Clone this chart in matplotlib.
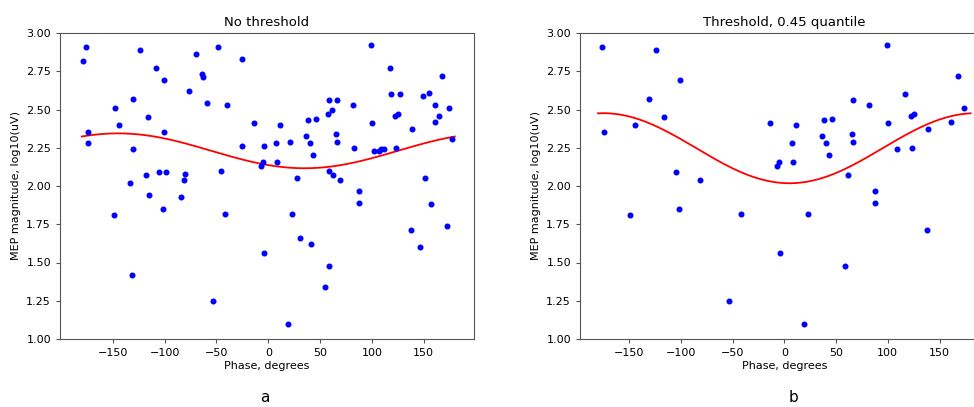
import numpy as np
import matplotlib
matplotlib.use("Agg")
import matplotlib.pyplot as plt

# panel a: all trials (phase in degrees, MEP log10 uV)
phase_all = [-179, -176, -174, -174, -148, -144, -131, -131, -124, -116, -118, -108,
             -105, -99, -101, -101, -133, -81, -80, -77, -70, -64, -63, -59, -49, -46,
             -40, -25, -25, -14, -4, -5, -7,
             -115, -84, -102, -149, -42, -4, -132, -53,
             7, 8, 11, 21, 28, 36, 38, 40, 43, 46, 58, 59, 61, 66, 65, 66, 59, 62, 69,
             82, 83, 99, 100, 102, 107, 109, 112, 117, 118, 123, 122, 125, 127, 139,
             149, 155, 151, 161, 161, 165, 168, 174, 177,
             23, 31, 41, 59, 55, 19, 88, 88, 157, 172, 138, 146]
mep_all = [2.82, 2.91, 2.35, 2.28, 2.51, 2.40, 2.57, 2.24, 2.89, 2.45, 2.07, 2.77,
           2.09, 2.09, 2.69, 2.35, 2.02, 2.04, 2.08, 2.62, 2.86, 2.73, 2.71, 2.54, 2.91, 2.10,
           2.53, 2.83, 2.26, 2.41, 2.26, 2.16, 2.13,
           1.94, 1.93, 1.85, 1.81, 1.82, 1.56, 1.42, 1.25,
           2.28, 2.16, 2.40, 2.29, 2.05, 2.33, 2.43, 2.28, 2.20, 2.44, 2.47, 2.56, 2.50, 2.56, 2.34, 2.29, 2.10, 2.07, 2.04,
           2.53, 2.25, 2.92, 2.41, 2.23, 2.23, 2.24, 2.24, 2.77, 2.60, 2.25, 2.46, 2.47, 2.60, 2.37,
           2.59, 2.61, 2.05, 2.53, 2.42, 2.46, 2.72, 2.51, 2.31,
           1.82, 1.66, 1.62, 1.48, 1.34, 1.10, 1.97, 1.89, 1.88, 1.74, 1.71, 1.60]

# panel b: trials kept after the 0.45 quantile threshold
phase_thr = [-176, -174, -144, -131, -124, -116, -101, -105, -81, -14, -5, -7,
             -149, -102, -42, -4, -53,
             7, 8, 11, 36, 38, 40, 43, 46, 62, 65, 66, 66, 82, 99, 100, 109, 117,
             123, 122, 125, 139, 161, 168, 174,
             23, 19, 59, 88, 88, 138]
mep_thr = [2.91, 2.35, 2.40, 2.57, 2.89, 2.45, 2.69, 2.09, 2.04, 2.41, 2.16, 2.13,
           1.81, 1.85, 1.82, 1.56, 1.25,
           2.28, 2.16, 2.40, 2.33, 2.43, 2.28, 2.20, 2.44, 2.07, 2.34, 2.29, 2.56, 2.53, 2.92, 2.41, 2.24, 2.60,
           2.25, 2.46, 2.47, 2.37, 2.42, 2.72, 2.51,
           1.82, 1.10, 1.48, 1.97, 1.89, 1.71]

# cosine fit parameters (offset, amplitude, preferred phase in deg)
fit_all = (2.230, 0.114, -145)
fit_thr = (2.247, 0.229, -175)


def cosine_curve(params):
    offset, amp, peak = params
    grid = np.linspace(-180, 180, 361)
    return grid, offset + amp * np.cos(np.deg2rad(grid - peak))


W, H = 974, 407
fig = plt.figure(figsize=(W / 100, H / 100), dpi=100)

panels = [
    (phase_all, mep_all, fit_all, "No threshold", (60, 414), (-201, 198.5), "a", 265),
    (phase_thr, mep_thr, fit_thr, "Threshold, 0.45 quantile", (580, 409), (-197.4, 197.8), "b", 793),
]

for phase, mep, fit, title, (left, width), xlim, tag, tag_x in panels:
    ax = fig.add_axes([left / W, (H - 339) / H, width / W, 306 / H])
    ax.scatter(phase, mep, s=11, color="blue", zorder=3)
    fx, fy = cosine_curve(fit)
    ax.plot(fx, fy, color="red", lw=1.3)
    ax.set_xlim(*xlim)
    ax.set_ylim(1.0, 3.0)
    ax.set_xticks([-150, -100, -50, 0, 50, 100, 150])
    ax.set_yticks(np.arange(1.0, 3.01, 0.25))
    ax.tick_params(labelsize=8, length=3, color="#555555")
    for sp in ax.spines.values():
        sp.set_color("#555555")
    ax.set_title(title, fontsize=9.5, pad=5)
    ax.set_xlabel("Phase, degrees", fontsize=8, labelpad=2)
    ax.set_ylabel("MEP magnitude, log10(uV)", fontsize=8)
    fig.text(tag_x / W, 1 - 397 / H, tag, fontsize=11, ha="center", va="center")

fig.savefig("out.png", dpi=100)
